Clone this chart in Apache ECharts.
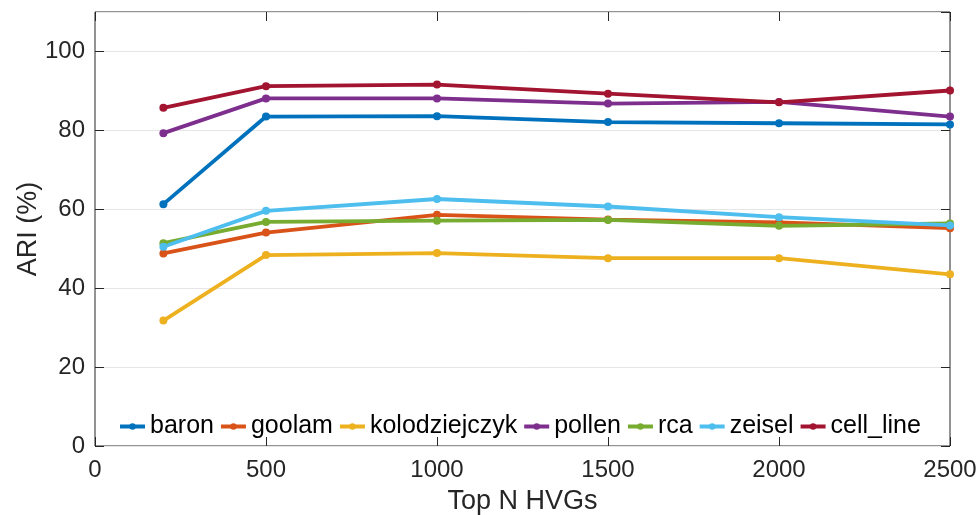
<!DOCTYPE html>
<html>
<head>
<meta charset="utf-8">
<script src="https://cdn.jsdelivr.net/npm/echarts@6/dist/echarts.min.js"></script>
<style>
  html, body { margin: 0; padding: 0; background: #fff; }
  #chart { width: 978px; height: 515px; }
</style>
</head>
<body>
<div id="chart"></div>
<script>
const topN = [200, 500, 1000, 1500, 2000, 2500]

const baron = [61.3, 83.5, 83.6, 82.1, 81.8, 81.5]
const goolam = [48.8, 54.1, 58.6, 57.4, 56.7, 55.2]
const kolodziejczyk = [31.8, 48.4, 48.9, 47.6, 47.6, 43.5]
const pollen = [79.3, 88.1, 88.1, 86.8, 87.2, 83.5]
const rca = [51.4, 56.8, 57.1, 57.3, 55.8, 56.4]
const zeisel = [50.5, 59.6, 62.6, 60.7, 58.0, 55.9]
const cellLine = [85.7, 91.2, 91.6, 89.3, 87.1, 90.1]

const seriesNames = ['baron', 'goolam', 'kolodziejczyk', 'pollen', 'rca', 'zeisel', 'cell_line']
const seriesValues = [baron, goolam, kolodziejczyk, pollen, rca, zeisel, cellLine]
const colors = ['#0072BD', '#D95319', '#EDB120', '#7E2F8E', '#77AC30', '#4DBEEE', '#A2142F']

const font = 'Liberation Sans, Arial, sans-serif'
const ink = '#262626'

const chart = echarts.init(document.getElementById('chart'))

// mirror axes on top/right: ticks only, like a matlab box
const mirrorAxis = {
  axisLine: { show: false, onZero: false },
  axisTick: { show: true, inside: true, length: 9, lineStyle: { color: ink } },
  axisLabel: { show: false },
  splitLine: { show: false }
}

chart.setOption({
  animation: false,
  color: colors,
  textStyle: { fontFamily: font },
  grid: {
    left: 95, right: 28, top: 12, bottom: 69,
    outerBoundsMode: 'none',
    show: true, borderColor: ink, borderWidth: 1
  },
  legend: {
    top: 409,
    left: 113,
    itemWidth: 25,
    itemHeight: 8,
    itemGap: 5,
    lineStyle: { width: 4 },
    textStyle: { fontSize: 25, color: '#000', fontFamily: font },
    data: seriesNames
  },
  xAxis: [
    {
      type: 'value', min: 0, max: 2500, interval: 500,
      name: 'Top N HVGs', nameLocation: 'middle', nameGap: 42, nameMoveOverlap: false,
      nameTextStyle: { fontSize: 27, color: ink },
      axisLine: { show: false },
      axisTick: { inside: true, length: 9, lineStyle: { color: ink } },
      axisLabel: { fontSize: 24, color: ink, margin: 12, formatter: v => String(v) },
      splitLine: { show: false }
    },
    Object.assign({ type: 'value', min: 0, max: 2500, interval: 500, position: 'top' }, mirrorAxis)
  ],
  yAxis: [
    {
      type: 'value', min: 0, max: 110, interval: 20,
      name: 'ARI (%)', nameLocation: 'middle', nameGap: 53, nameMoveOverlap: false,
      nameTextStyle: { fontSize: 27, color: ink },
      axisLine: { show: false },
      axisTick: { inside: true, length: 9, lineStyle: { color: ink } },
      axisLabel: { fontSize: 24, color: ink, margin: 10, showMaxLabel: false },
      splitLine: { show: true, lineStyle: { color: '#e6e6e6', width: 1 } }
    },
    Object.assign({ type: 'value', min: 0, max: 110, interval: 20, position: 'right' }, mirrorAxis)
  ],
  series: seriesNames.map((name, i) => ({
    name: name,
    type: 'line',
    data: topN.map((x, j) => [x, seriesValues[i][j]]),
    symbol: 'circle',
    symbolSize: 8,
    lineStyle: { width: 3.8 },
    itemStyle: { color: colors[i] }
  }))
})
</script>
</body>
</html>
